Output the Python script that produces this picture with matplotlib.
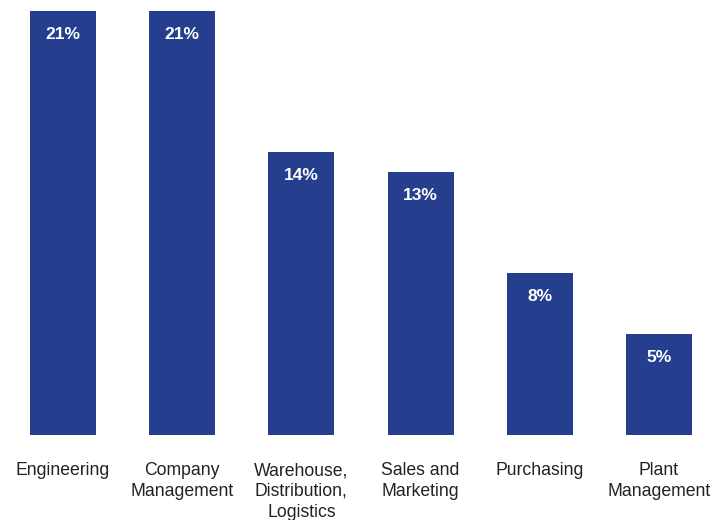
import matplotlib.pyplot as plt

# Share of respondents by job function
categories = ["Engineering", "Company\nManagement", "Warehouse,\nDistribution,\nLogistics",
              "Sales and\nMarketing", "Purchasing", "Plant\nManagement"]
values = [21, 21, 14, 13, 8, 5]
bar_color = "#253F8E"

fig = plt.figure(figsize=(7.28, 5.2), dpi=100)
ax = fig.add_axes([0, 85 / 520, 1, 435 / 520])

x = list(range(len(categories)))
bars = ax.bar(x, values, width=0.553, color=bar_color)

for xi, v in zip(x, values):
    ax.annotate(f"{v}%", (xi, v), xytext=(0, -11.5), textcoords="offset points",
                ha="center", va="top", color="white", fontsize=12.5,
                fontweight="bold", family="Liberation Sans")

ax.set_xlim(-0.5285, 5.579)
ax.set_ylim(0, 21.53)
ax.set_xticks(x)
ax.set_xticklabels(categories, fontsize=12.7, family="Liberation Sans",
                   color="#222222", linespacing=1.3)
ax.tick_params(axis="x", length=0, pad=19.5)
ax.set_yticks([])
for s in ax.spines.values():
    s.set_visible(False)

fig.savefig("out.png", dpi=100)
